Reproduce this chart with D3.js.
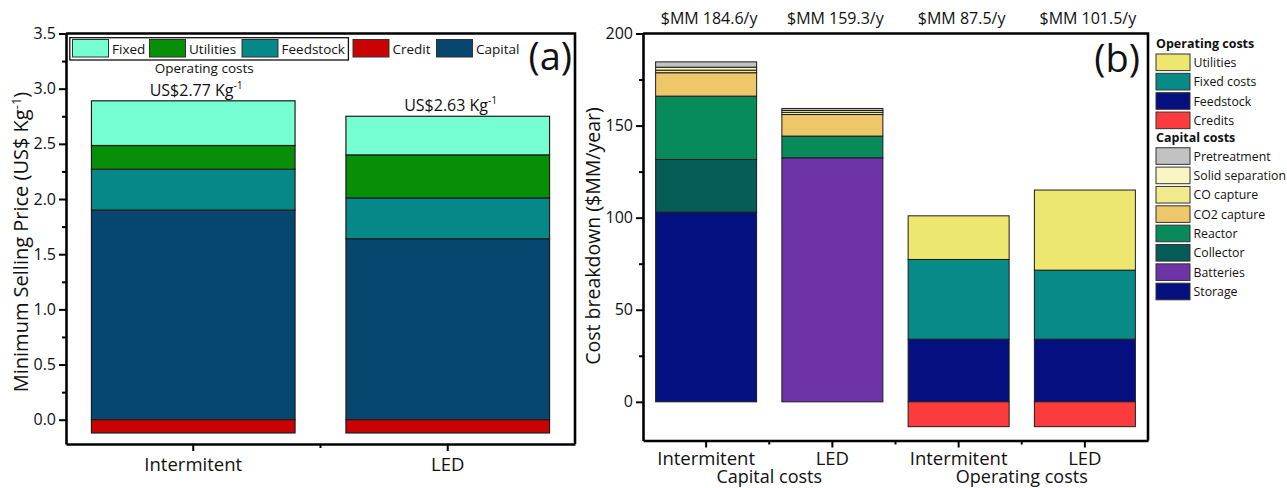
<!DOCTYPE html>
<html>
<head>
<meta charset="utf-8">
<script src="https://cdn.jsdelivr.net/npm/d3@7"></script>
<style>
body { margin: 0; background: #fff; }
svg text { font-family: "Open Sans", sans-serif; fill: #111; }
</style>
</head>
<body>
<svg id="chart" width="1287" height="488"></svg>
<script>
// ---- panel (a): minimum selling price, US$/kg
var casesA = ["Intermitent", "LED"];
var capitalA = [1.90, 1.64];
var feedstockA = [0.37, 0.37];
var utilitiesA = [0.215, 0.39];
var fixedA = [0.405, 0.35];
var creditA = [-0.12, -0.12];
var priceLabelsA = ["US$2.77 Kg", "US$2.63 Kg"];
var ticksA = [0, 0.5, 1, 1.5, 2, 2.5, 3, 3.5];
var minorTicksA = [0.25, 0.75, 1.25, 1.75, 2.25, 2.75, 3.25];
var legendA = ["Fixed", "Utilities", "Feedstock", "Credit", "Capital"];

// ---- panel (b): cost breakdown, $MM/year
var barsB = ["Intermitent", "LED", "Intermitent", "LED"];
var groupsB = ["Capital costs", "Operating costs"];
var storageB = [103.0, 0, 0, 0];
var batteriesB = [0, 132.5, 0, 0];
var collectorB = [28.6, 0, 0, 0];
var reactorB = [34.4, 11.8, 0, 0];
var co2CaptureB = [12.7, 11.7, 0, 0];
var coCaptureB = [1.4, 1.2, 0, 0];
var solidSepB = [1.6, 1.0, 0, 0];
var pretreatB = [2.9, 1.1, 0, 0];
var feedstockB = [0, 0, 34, 34];
var fixedB = [0, 0, 43.3, 37.5];
var utilitiesB = [0, 0, 23.7, 43.5];
var creditsB = [0, 0, -13.5, -13.5];
var totalLabelsB = ["$MM 184.6/y", "$MM 159.3/y", "$MM 87.5/y", "$MM 101.5/y"];
var ticksB = [0, 50, 100, 150, 200];
var minorTicksB = [25, 75, 125, 175];
var legendOpB = ["Utilities", "Fixed costs", "Feedstock", "Credits"];
var legendCapB = ["Pretreatment", "Solid separation", "CO capture", "CO2 capture",
                  "Reactor", "Collector", "Batteries", "Storage"];

var colorsA = {
  "Fixed": "#76FFD2", "Utilities": "#088F08", "Feedstock": "#078888",
  "Credit": "#C90303", "Capital": "#05476F"
};
var colorsB = {
  "Utilities": "#EDE76F", "Fixed costs": "#078A88", "Feedstock": "#050F80",
  "Credits": "#FC3C3C", "Pretreatment": "#C2C2C2", "Solid separation": "#FAF6C4",
  "CO capture": "#F2EB8E", "CO2 capture": "#EEC76B", "Reactor": "#078B5B",
  "Collector": "#055B56", "Batteries": "#6E34A7", "Storage": "#040F80"
};

var svg = d3.select("#chart");

// draws the axes box: left/bottom axes with ticks, plain top/right lines
function drawAxes(x, y, ticks, minor, fmt, tickFont, xPad) {
  var x0 = x.range()[0], x1 = x.range()[1];
  var yb = y.range()[0], yt = y.range()[1];

  var ga = svg.append("g").attr("transform", "translate(" + x0 + ",0)")
    .call(d3.axisLeft(y).tickValues(ticks).tickSize(7).tickSizeOuter(0)
      .tickPadding(3).tickFormat(fmt));
  ga.selectAll("text").style("font-size", tickFont + "px");
  svg.append("g").attr("transform", "translate(" + x0 + ",0)")
    .call(d3.axisLeft(y).tickValues(minor).tickSize(4).tickFormat(""))
    .select(".domain").remove();

  var gb = svg.append("g").attr("transform", "translate(0," + yb + ")")
    .call(d3.axisBottom(x).tickSize(7).tickSizeOuter(0).tickPadding(xPad)
      .tickFormat(function(i) { return x.labels[i]; }));
  gb.selectAll("text").style("font-size", "18.5px");

  // short ticks between the bars
  var bounds = d3.range(x.domain().length - 1).map(function(i) {
    return x(i) + x.bandwidth() + x.step() * x.paddingInner() / 2;
  });
  svg.append("g").selectAll("line").data(bounds).join("line")
    .attr("x1", function(d) { return d; }).attr("x2", function(d) { return d; })
    .attr("y1", yb).attr("y2", yb + 4)
    .attr("stroke", "#000").attr("stroke-width", 2);

  svg.selectAll(".domain").attr("stroke-width", 2.6);
  svg.selectAll(".tick line").attr("stroke-width", 2);

  svg.append("path")
    .attr("d", "M" + x0 + "," + yt + "H" + x1 + "V" + yb)
    .attr("fill", "none").attr("stroke", "#000").attr("stroke-width", 2.6);
  return bounds;
}

function supText(sel, main, sup, tail) {
  sel.append("tspan").text(main);
  sel.append("tspan").attr("dy", -7).style("font-size", "0.65em").text(sup);
  if (tail) sel.append("tspan").attr("dy", 7).text(tail);
}

// ================= panel (a) =================
var xA = d3.scaleBand().domain(d3.range(casesA.length)).range([66, 575])
  .paddingInner(0.2).paddingOuter(0.1);
xA.labels = casesA;
var yA = d3.scaleLinear().domain([-0.22, 3.5]).range([444, 33.5]);

var keysA = ["Capital", "Feedstock", "Utilities", "Fixed", "Credit"];
var seriesA = { "Capital": capitalA, "Feedstock": feedstockA, "Utilities": utilitiesA,
                "Fixed": fixedA, "Credit": creditA };
var rowsA = casesA.map(function(c, i) {
  var r = { idx: i };
  keysA.forEach(function(k) { r[k] = seriesA[k][i]; });
  return r;
});
var stackA = d3.stack().keys(keysA).offset(d3.stackOffsetDiverging)(rowsA);

svg.append("g").selectAll("g").data(stackA).join("g")
  .attr("fill", function(s) { return colorsA[s.key]; })
  .selectAll("rect").data(function(s) { return s; }).join("rect")
  .attr("x", function(d) { return xA(d.data.idx); })
  .attr("width", xA.bandwidth())
  .attr("y", function(d) { return yA(d[1]); })
  .attr("height", function(d) { return yA(d[0]) - yA(d[1]); })
  .attr("stroke", "#1c1c1c").attr("stroke-width", 1.2);

drawAxes(xA, yA, ticksA, minorTicksA, d3.format(".1f"), 16, 7);

// price labels above the bars
rowsA.forEach(function(r, i) {
  var top = keysA.filter(function(k) { return r[k] > 0; })
    .reduce(function(a, k) { return a + r[k]; }, 0);
  var t = svg.append("text").attr("x", xA(i) + xA.bandwidth() / 2 + 3)
    .attr("y", yA(top) - 5).attr("text-anchor", "middle").style("font-size", "16px");
  supText(t, priceLabelsA[i], "-1");
});
svg.append("text").attr("x", xA(0) + xA.bandwidth() / 2 + 11).attr("y", 73)
  .attr("text-anchor", "middle").style("font-size", "13.5px").text("Operating costs");

// legend (a)
var legAx = [72.5, 149.5, 242, 353, 436.5];
var legA = svg.append("g");
legA.append("rect").attr("x", 69.8).attr("y", 37.7).attr("width", 278.6).attr("height", 22.3)
  .attr("fill", "none").attr("stroke", "#111").attr("stroke-width", 1.3);
legendA.forEach(function(k, i) {
  legA.append("rect").attr("x", legAx[i]).attr("y", 39.5).attr("width", 36).attr("height", 17.5)
    .attr("fill", colorsA[k]).attr("stroke", "#333").attr("stroke-width", 1);
  legA.append("text").attr("x", legAx[i] + 39.5).attr("y", 53.5)
    .style("font-size", "13.5px").text(k);
});
svg.append("text").attr("x", 572).attr("y", 70).attr("text-anchor", "end")
  .style("font-size", "38px").text("(a)");

var tA = svg.append("text").attr("transform", "translate(28,242) rotate(-90)")
  .attr("text-anchor", "middle").style("font-size", "20px");
supText(tA, "Minimum Selling Price (US$ Kg", "-1", ")");

// ================= panel (b) =================
var xB = d3.scaleBand().domain(d3.range(barsB.length)).range([643, 1148])
  .paddingInner(0.2).paddingOuter(0.1);
xB.labels = barsB;
var yB = d3.scaleLinear().domain([-21, 200]).range([440.5, 33.5]);

var keysB = ["Storage", "Batteries", "Collector", "Reactor", "CO2 capture", "CO capture",
             "Solid separation", "Pretreatment", "Feedstock", "Fixed costs", "Utilities", "Credits"];
var seriesB = {
  "Storage": storageB, "Batteries": batteriesB, "Collector": collectorB, "Reactor": reactorB,
  "CO2 capture": co2CaptureB, "CO capture": coCaptureB, "Solid separation": solidSepB,
  "Pretreatment": pretreatB, "Feedstock": feedstockB, "Fixed costs": fixedB,
  "Utilities": utilitiesB, "Credits": creditsB
};
var rowsB = barsB.map(function(c, i) {
  var r = { idx: i };
  keysB.forEach(function(k) { r[k] = seriesB[k][i]; });
  return r;
});
var stackB = d3.stack().keys(keysB).offset(d3.stackOffsetDiverging)(rowsB);

svg.append("g").selectAll("g").data(stackB).join("g")
  .attr("fill", function(s) { return colorsB[s.key]; })
  .selectAll("rect").data(function(s) { return s.filter(function(d) { return d[1] !== d[0]; }); })
  .join("rect")
  .attr("x", function(d) { return xB(d.data.idx); })
  .attr("width", xB.bandwidth())
  .attr("y", function(d) { return yB(d[1]); })
  .attr("height", function(d) { return yB(d[0]) - yB(d[1]); })
  .attr("stroke", "#1c1c1c").attr("stroke-width", 1);

var boundsB = drawAxes(xB, yB, ticksB, minorTicksB, d3.format("d"), 16, 4);

// group names under the tick labels
[boundsB[0], boundsB[2]].forEach(function(bx, i) {
  svg.append("text").attr("x", bx).attr("y", 483).attr("text-anchor", "middle")
    .style("font-size", "18px").text(groupsB[i]);
});

// totals above the frame
totalLabelsB.forEach(function(lbl, i) {
  svg.append("text").attr("x", xB(i) + xB.bandwidth() / 2 + 3).attr("y", 24)
    .attr("text-anchor", "middle").style("font-size", "16px").text(lbl);
});

svg.append("text").attr("x", 1140).attr("y", 72).attr("text-anchor", "end")
  .style("font-size", "38px").text("(b)");

svg.append("text").attr("transform", "translate(600,236) rotate(-90)")
  .attr("text-anchor", "middle").style("font-size", "19.5px")
  .text("Cost breakdown ($MM/year)");

// legend (b)
var legB = svg.append("g").attr("transform", "translate(1156,0)");
var rowY = 62.3, rowH = 19.35;
function legendBlock(title, keys) {
  legB.append("text").attr("x", 0).attr("y", rowY - rowH + 5)
    .style("font-size", "12.5px").style("font-weight", "bold").text(title);
  keys.forEach(function(k) {
    legB.append("rect").attr("x", 0).attr("y", rowY - 8.3).attr("width", 34).attr("height", 16.6)
      .attr("fill", colorsB[k]).attr("stroke", "#333").attr("stroke-width", 1);
    legB.append("text").attr("x", 37.5).attr("y", rowY + 4.5)
      .style("font-size", "12.3px").text(k);
    rowY += rowH;
  });
  rowY += rowH;
}
legendBlock("Operating costs", legendOpB);
rowY -= 3;
legendBlock("Capital costs", legendCapB);
</script>
</body>
</html>
